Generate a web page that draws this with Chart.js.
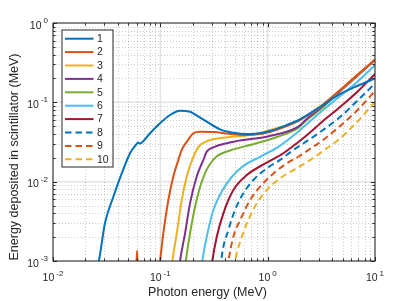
<!DOCTYPE html>
<html>
<head>
<meta charset="utf-8">
<script src="https://cdn.jsdelivr.net/npm/chart.js@4.4.1/dist/chart.umd.min.js"></script>
<style>
  html, body { margin: 0; padding: 0; background: #fff; }
  canvas { display: block; }
</style>
</head>
<body>
<canvas id="chart" width="415" height="301"></canvas>
<script>
// photon energy (MeV) / deposited energy (MeV)
const e1 = [0.025, 0.0267, 0.0305, 0.0365, 0.0437, 0.0522, 0.0600, 0.0622, 0.0645, 0.0671, 0.0802, 0.0993, 0.123, 0.1527, 0.189, 0.203, 0.2707, 0.36, 0.4788, 0.6387, 0.849, 1.13, 1.506, 2.0, 3.28, 4.73, 6.81, 10];
const v1 = [0.0008, 0.001, 0.00301, 0.00646, 0.0127, 0.0228, 0.0298, 0.0312, 0.0302, 0.0310, 0.0407, 0.0544, 0.0692, 0.0785, 0.0762, 0.0727, 0.057, 0.0457, 0.0414, 0.0399, 0.0407, 0.0448, 0.0518, 0.0611, 0.0925, 0.1274, 0.1607, 0.1997];

const e2 = [0.0598, 0.0607, 0.0616, 0.097, 0.0993, 0.1066, 0.1188, 0.1321, 0.1472, 0.1583, 0.181, 0.203, 0.2344, 0.312, 0.4463, 0.6387, 0.849, 1.13, 1.506, 2.0, 2.31, 3.28, 4.73, 6.81, 10];
const v2 = [0.0008, 0.00135, 0.0008, 0.0008, 0.001, 0.00223, 0.00587, 0.0116, 0.0188, 0.0251, 0.0335, 0.0407, 0.0426, 0.0423, 0.0399, 0.0387, 0.0399, 0.0439, 0.0503, 0.0599, 0.0673, 0.0941, 0.143, 0.221, 0.347];

const e3 = [0.127, 0.1294, 0.1422, 0.1583, 0.1763, 0.203, 0.2344, 0.261, 0.2904, 0.4463, 0.6855, 1.052, 1.617, 2.31, 3.28, 4.73, 6.81, 10];
const v3 = [0.0008, 0.001, 0.00223, 0.00587, 0.0116, 0.0206, 0.029, 0.0316, 0.0335, 0.0366, 0.0387, 0.0448, 0.0536, 0.0673, 0.093, 0.142, 0.22, 0.345];

const e4 = [0.15, 0.1527, 0.170, 0.189, 0.2183, 0.2518, 0.2706, 0.312, 0.4159, 0.594, 0.981, 1.933, 2.31, 3.28, 4.73, 6.81, 10];
const v4 = [0.0008, 0.001, 0.00223, 0.00533, 0.0116, 0.0188, 0.0239, 0.0271, 0.0305, 0.0335, 0.0369, 0.0493, 0.0617, 0.0899, 0.139, 0.215, 0.341];

const e5 = [0.169, 0.1725, 0.189, 0.2106, 0.2344, 0.261, 0.2904, 0.3304, 0.4463, 0.6855, 1.223, 1.92, 2.31, 3.28, 4.73, 6.81, 10];
const v5 = [0.0008, 0.001, 0.00223, 0.00483, 0.00857, 0.01285, 0.0167, 0.0205, 0.0247, 0.029, 0.0366, 0.0475, 0.0599, 0.0873, 0.139, 0.215, 0.341];

const e6 = [0.241, 0.246, 0.2707, 0.312, 0.3733, 0.4624, 0.594, 0.849, 1.25, 1.762, 3.28, 4.73, 6.81, 10];
const v6 = [0.0008, 0.001, 0.00202, 0.00439, 0.0075, 0.01145, 0.0158, 0.0206, 0.0273, 0.0387, 0.080, 0.120, 0.1804, 0.2955];

const e7 = [0.30, 0.3053, 0.3355, 0.3865, 0.4788, 0.6387, 0.981, 1.40, 1.933, 2.33, 3.28, 4.73, 6.81, 10];
const v7 = [0.0008, 0.001, 0.00202, 0.00399, 0.00785, 0.0121, 0.0174, 0.0228, 0.0316, 0.0387, 0.0582, 0.0873, 0.135, 0.2276];

const e8 = [0.365, 0.3733, 0.4305, 0.4966, 0.594, 0.7362, 0.981, 1.305, 1.738, 2.33, 3.28, 4.73, 6.81, 10];
const v8 = [0.0008, 0.00113, 0.00246, 0.00439, 0.00713, 0.0105, 0.0147, 0.0188, 0.0251, 0.0326, 0.0448, 0.0653, 0.104, 0.1727];

const e9 = [0.42, 0.4305, 0.4788, 0.574, 0.6855, 0.849, 1.13, 1.506, 1.933, 2.33, 3.28, 4.73, 6.81, 10];
const v9 = [0.0008, 0.001, 0.00202, 0.00362, 0.00587, 0.00864, 0.0127, 0.017, 0.0206, 0.0244, 0.0335, 0.0503, 0.0789, 0.139];

const e10 = [0.485, 0.4966, 0.574, 0.661, 0.791, 0.981, 1.305, 1.738, 2.33, 3.28, 4.73, 6.81, 10];
const v10 = [0.0008, 0.001, 0.00202, 0.00329, 0.00533, 0.00785, 0.011, 0.014, 0.0177, 0.0244, 0.0352, 0.0565, 0.101];

const seriesLabels = ["1", "2", "3", "4", "5", "6", "7", "8", "9", "10"];
const xExponents = [-2, -1, 0, 1];
const yExponents = [-3, -2, -1, 0];

const energies = [e1, e2, e3, e4, e5, e6, e7, e8, e9, e10];
const deposits = [v1, v2, v3, v4, v5, v6, v7, v8, v9, v10];
const colors = ["#0072BD", "#D95319", "#EDB120", "#7E2F8E", "#77AC30", "#4DBEEE", "#A2142F", "#0072BD", "#D95319", "#EDB120"];
const DASH = [6.5, 4];

const FONT = '"Liberation Sans", Arial, Helvetica, sans-serif';
const INK = "#262626";

function minorValues(exps) {
  const out = [];
  for (let i = 0; i < exps.length - 1; i++)
    for (let m = 2; m <= 9; m++) out.push(m * Math.pow(10, exps[i]));
  return out;
}

function powLabel(ctx, exp, x, y, align) {
  const base = "10", sup = String(exp);
  ctx.font = `10.5px ${FONT}`;
  const wb = ctx.measureText(base).width;
  ctx.font = `8px ${FONT}`;
  const ws = ctx.measureText(sup).width;
  const gap = 2;
  const w = wb + gap + ws;
  const left = align === "right" ? x - w : x - w / 2;
  ctx.font = `10.5px ${FONT}`;
  ctx.fillText(base, left, y);
  ctx.font = `8px ${FONT}`;
  ctx.fillText(sup, left + wb + gap, y - 5.5);
}

const axesPlugin = {
  id: "matlabAxes",
  beforeDatasetsDraw(chart) {
    const { ctx, chartArea: a, scales: { x, y } } = chart;
    ctx.save();
    ctx.lineWidth = 1;

    // minor grid, dotted
    ctx.strokeStyle = "rgba(26,26,26,0.22)";
    ctx.setLineDash([1, 2]);
    ctx.beginPath();
    minorValues(xExponents).forEach(v => {
      const px = Math.round(x.getPixelForValue(v)) + 0.5;
      ctx.moveTo(px, a.top); ctx.lineTo(px, a.bottom);
    });
    minorValues(yExponents).forEach(v => {
      const py = Math.round(y.getPixelForValue(v)) + 0.5;
      ctx.moveTo(a.left, py); ctx.lineTo(a.right, py);
    });
    ctx.stroke();

    // major grid
    ctx.setLineDash([]);
    ctx.strokeStyle = "rgba(38,38,38,0.13)";
    ctx.lineWidth = 1.5;
    ctx.beginPath();
    xExponents.forEach(k => {
      const px = x.getPixelForValue(Math.pow(10, k));
      ctx.moveTo(px, a.top); ctx.lineTo(px, a.bottom);
    });
    yExponents.forEach(k => {
      const py = y.getPixelForValue(Math.pow(10, k));
      ctx.moveTo(a.left, py); ctx.lineTo(a.right, py);
    });
    ctx.stroke();
    ctx.restore();
  },
  afterDatasetsDraw(chart) {
    const { ctx, chartArea: a, scales: { x, y } } = chart;
    ctx.save();
    ctx.setLineDash([]);
    ctx.strokeStyle = INK;
    ctx.lineWidth = 1;

    // box
    ctx.strokeRect(a.left, a.top, a.right - a.left, a.bottom - a.top);

    // ticks on all four sides, pointing in
    ctx.beginPath();
    const xt = xExponents.map(k => [Math.pow(10, k), 4]).concat(minorValues(xExponents).map(v => [v, 2.5]));
    xt.forEach(([v, len]) => {
      const px = Math.round(x.getPixelForValue(v)) + 0.5;
      ctx.moveTo(px, a.bottom); ctx.lineTo(px, a.bottom - len);
      ctx.moveTo(px, a.top); ctx.lineTo(px, a.top + len);
    });
    const yt = yExponents.map(k => [Math.pow(10, k), 4]).concat(minorValues(yExponents).map(v => [v, 2.5]));
    yt.forEach(([v, len]) => {
      const py = Math.round(y.getPixelForValue(v)) + 0.5;
      ctx.moveTo(a.left, py); ctx.lineTo(a.left + len, py);
      ctx.moveTo(a.right, py); ctx.lineTo(a.right - len, py);
    });
    ctx.stroke();

    // tick labels
    ctx.fillStyle = INK;
    ctx.textBaseline = "alphabetic";
    ctx.textAlign = "left";
    xExponents.forEach(k => powLabel(ctx, k, x.getPixelForValue(Math.pow(10, k)), a.bottom + 20, "center"));
    yExponents.forEach(k => powLabel(ctx, k, a.left - 5, y.getPixelForValue(Math.pow(10, k)) + 5.5, "right"));

    // axis titles
    ctx.font = `12.5px ${FONT}`;
    ctx.textAlign = "center";
    ctx.fillText("Photon energy (MeV)", 207.5, 296);
    ctx.save();
    ctx.translate(18, 157);
    ctx.rotate(-Math.PI / 2);
    ctx.fillText("Energy deposited in scintillator (MeV)", 0, 0);
    ctx.restore();

    // legend
    const lx = 62, ly = 30, lw = 51, lh = 137;
    ctx.fillStyle = "#fff";
    ctx.fillRect(lx, ly, lw, lh);
    ctx.strokeStyle = INK;
    ctx.lineWidth = 1;
    ctx.strokeRect(lx, ly, lw, lh);
    ctx.font = `10.5px ${FONT}`;
    ctx.textAlign = "left";
    ctx.textBaseline = "middle";
    chart.data.datasets.forEach((ds, i) => {
      const yy = 38.7 + 13.4 * i;
      ctx.strokeStyle = ds.borderColor;
      ctx.lineWidth = 2;
      ctx.setLineDash(ds.borderDash || []);
      ctx.beginPath();
      ctx.moveTo(65, yy); ctx.lineTo(93.5, yy);
      ctx.stroke();
      ctx.fillStyle = INK;
      ctx.fillText(ds.label, 97, yy + 0.5);
    });
    ctx.restore();
  }
};

new Chart(document.getElementById("chart"), {
  type: "line",
  data: {
    datasets: seriesLabels.map((label, i) => ({
      label,
      data: energies[i].map((e, j) => ({ x: e, y: deposits[i][j] })),
      borderColor: colors[i],
      borderWidth: 2,
      borderDash: i >= 7 ? DASH : [],
      pointRadius: 0,
      fill: false,
      cubicInterpolationMode: "monotone"
    }))
  },
  options: {
    responsive: false,
    animation: false,
    devicePixelRatio: 1,
    layout: { padding: { left: 53, top: 23, right: 40, bottom: 40 } },
    plugins: { legend: { display: false }, tooltip: { enabled: false } },
    scales: {
      x: { type: "logarithmic", min: 0.01, max: 10, display: false },
      y: { type: "logarithmic", min: 0.001, max: 1, display: false }
    }
  },
  plugins: [axesPlugin]
});
</script>
</body>
</html>
